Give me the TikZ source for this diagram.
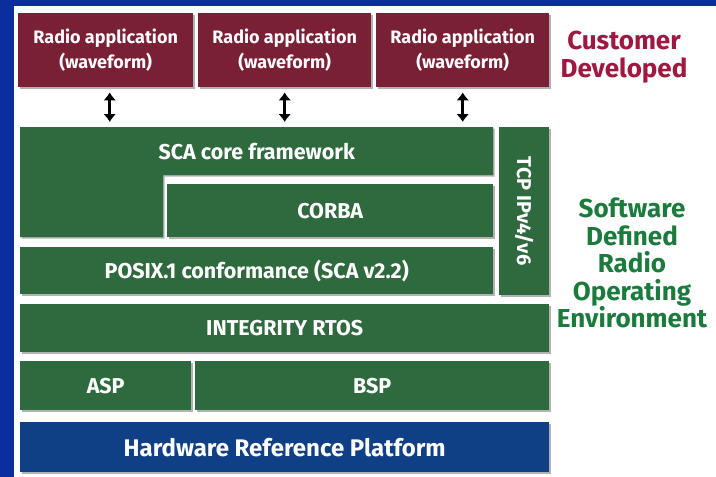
\documentclass[tikz,border=0pt]{standalone}
\usepackage{fontspec}
\setmainfont{Fira Sans}
\usetikzlibrary{arrows.meta,shadows}

\definecolor{bgblue}{HTML}{0B2E9E}
\definecolor{appred}{HTML}{7A2034}
\definecolor{layergreen}{HTML}{2E6A3D}
\definecolor{hwblue}{HTML}{0F3F84}
\definecolor{custred}{HTML}{A0173F}
\definecolor{sdrgreen}{HTML}{1B7B3C}

\begin{document}
\begin{tikzpicture}[x=1pt, y=-1pt,
    layer/.style={fill=layergreen, text=white, anchor=north west, inner sep=0pt,
      font=\bfseries\fontsize{21.5}{24}\selectfont,
      drop shadow={shadow xshift=1.5pt, shadow yshift=-1.5pt, opacity=0.6}},
    app/.style={layer, fill=appred, align=center,
      font=\bfseries\fontsize{18}{25}\selectfont},
    lbl/.style={text=white, font=\bfseries\fontsize{21.5}{24}\selectfont},
    side/.style={align=center, font=\bfseries\fontsize{26}{27.5}\selectfont},
    biarrow/.style={{Latex[length=8pt,width=13pt]}-{Latex[length=8pt,width=13pt]},
      line width=3pt, shorten <=5pt, shorten >=5pt}]

    % page with blue frame
    \useasboundingbox (0,0) rectangle (716,477);
    \fill[bgblue] (0,0) rectangle (716,477);
    \fill[white] (14,6) rectangle (716,477);

    % customer developed waveforms
    \node[app, minimum width=175, minimum height=74] (app1) at (18,13) {Radio application\\(waveform)};
    \node[app, minimum width=173, minimum height=74] (app2) at (198,13) {Radio application\\(waveform)};
    \node[app, minimum width=173, minimum height=74] (app3) at (376,13) {Radio application\\(waveform)};

    % SCA core framework (L shape)
    \path[fill=layergreen, drop shadow={shadow xshift=1.5pt, shadow yshift=-1.5pt, opacity=0.6}]
      (20,127) -- (493,127) -- (493,175) -- (163,175) -- (163,237) -- (20,237) -- cycle;
    \node[lbl, anchor=north west, minimum width=473, minimum height=48, inner sep=0pt] (sca) at (20,127) {SCA core framework};

    \node[layer, minimum width=326, minimum height=53] (corba) at (167,184) {CORBA};
    \node[layer, minimum width=473, minimum height=47] (posix) at (20,247) {POSIX.1 conformance (SCA v2.2)};
    \node[layer, minimum width=50, minimum height=168] (tcp) at (499,127) {};
    \node[lbl, rotate=-90, font=\bfseries\fontsize{20}{24}\selectfont] (tcptext) at (tcp.center) {TCP IPv4/v6};

    \node[layer, minimum width=529, minimum height=48] (rtos) at (20,304) {INTEGRITY RTOS};
    \node[layer, minimum width=171, minimum height=49] (asp) at (20,361) {ASP};
    \node[layer, minimum width=354, minimum height=49] (bsp) at (195,361) {BSP};
    \node[layer, fill=hwblue, minimum width=529, minimum height=50,
      font=\bfseries\fontsize{24}{28}\selectfont] (hw) at (20,422) {Hardware Reference Platform};

    % interfaces
    \draw[biarrow] ([xshift=4pt]app1.south) -- ([xshift=4pt]app1.south |- sca.north);
    \draw[biarrow] (app2.south) -- (app2.south |- sca.north);
    \draw[biarrow] (app3.south) -- (app3.south |- sca.north);

    % side captions
    \node[side, text=custred, font=\bfseries\fontsize{26}{28}\selectfont] (cust) at (624,57) {Customer\\Developed};
    \node[side, text=sdrgreen] (sdr) at (632,263) {Software\\Defined\\Radio\\Operating\\Environment};

\end{tikzpicture}
\end{document}
